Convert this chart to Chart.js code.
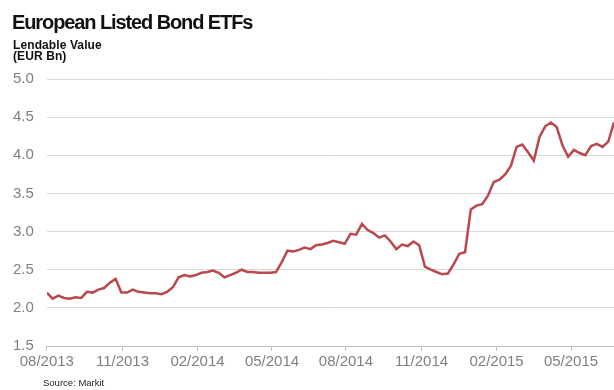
<!DOCTYPE html>
<html>
<head>
<meta charset="utf-8">
<script src="https://cdn.jsdelivr.net/npm/chart.js@4.4.0/dist/chart.umd.min.js"></script>
<style>
    body { margin: 0; background: #fff; }
    #wrap { position: relative; width: 614px; height: 390px; font-family: "Liberation Sans", Arial, sans-serif; }
    #title { position: absolute; left: 12px; top: 12px; font-size: 20px; line-height: 1; font-weight: bold; color: #111; letter-spacing: -1.1px; }
    #sub { position: absolute; left: 13px; top: 40px; font-size: 12px; line-height: 11px; font-weight: bold; color: #111; letter-spacing: 0.1px; }
    #src { position: absolute; left: 43px; top: 378px; font-size: 9.5px; line-height: 1; color: #222; }
</style>
</head>
<body>
<div id="wrap">
    <canvas id="chart" width="614" height="390"></canvas>
    <div id="title">European Listed Bond ETFs</div>
    <div id="sub">Lendable Value<br>(EUR Bn)</div>
    <div id="src">Source: Markit</div>
</div>
<script>
// weekly lendable value, EUR bn, from 08/2013
const values = [
    2.20, 2.12, 2.16, 2.13, 2.12, 2.14, 2.13, 2.21, 2.20, 2.24,
    2.26, 2.33, 2.38, 2.20, 2.20, 2.24, 2.21, 2.20, 2.19, 2.19,
    2.18, 2.21, 2.27, 2.40, 2.43, 2.41, 2.43, 2.46, 2.47, 2.49,
    2.46, 2.40, 2.43, 2.46, 2.50, 2.47, 2.47, 2.46, 2.46, 2.46,
    2.47, 2.60, 2.75, 2.74, 2.76, 2.79, 2.77, 2.82, 2.83, 2.85,
    2.88, 2.86, 2.84, 2.97, 2.96, 3.10, 3.02, 2.98, 2.92, 2.95,
    2.87, 2.77, 2.83, 2.81, 2.87, 2.82, 2.54, 2.50, 2.47, 2.44,
    2.45, 2.57, 2.71, 2.73, 3.29, 3.34, 3.36, 3.47, 3.65, 3.68,
    3.75, 3.86, 4.11, 4.14, 4.04, 3.93, 4.24, 4.38, 4.43, 4.37,
    4.13, 3.98, 4.07, 4.03, 4.00, 4.12, 4.15, 4.11, 4.18, 4.43
];

// x tick labels and where they fall (in weeks from the first point)
const tickLabels = ["08/2013", "11/2013", "02/2014", "05/2014", "08/2014", "11/2014", "02/2015", "05/2015"];
const tickWeeks = [0, 13.2, 26.3, 39.3, 52.2, 65.4, 78.5, 91.5];

const yTicks = { min: 1.5, max: 5.0, step: 0.5 };

const points = values.map((v, i) => ({ x: i, y: v }));

const ctx = document.getElementById("chart").getContext("2d");
new Chart(ctx, {
    type: "line",
    data: {
        datasets: [{
            data: points,
            borderColor: "#b9494c",
            borderWidth: 2.5,
            pointRadius: 0,
            tension: 0,
            fill: false
        }]
    },
    options: {
        responsive: false,
        animation: false,
        layout: { padding: { top: 79, left: 0, right: 0, bottom: 17 } },
        plugins: {
            legend: { display: false },
            tooltip: { enabled: false }
        },
        scales: {
            x: {
                type: "linear",
                min: 0,
                max: values.length - 1,
                afterBuildTicks: axis => {
                    axis.ticks = tickWeeks.map(w => ({ value: w }));
                },
                ticks: {
                    autoSkip: false,
                    maxRotation: 0,
                    padding: 2,
                    color: "#808080",
                    font: { family: "Liberation Sans", size: 15 },
                    callback: (v, i) => tickLabels[i]
                },
                grid: { drawOnChartArea: false, drawTicks: true, tickLength: 5, color: "#bfbfbf" },
                border: { color: "#bfbfbf" }
            },
            y: {
                min: yTicks.min,
                max: yTicks.max,
                ticks: {
                    stepSize: yTicks.step,
                    padding: 13,
                    color: "#808080",
                    font: { family: "Liberation Sans", size: 15 },
                    callback: v => v.toFixed(1)
                },
                grid: { color: "#d9d9d9", drawTicks: false },
                border: { display: false }
            }
        }
    }
});
</script>
</body>
</html>
